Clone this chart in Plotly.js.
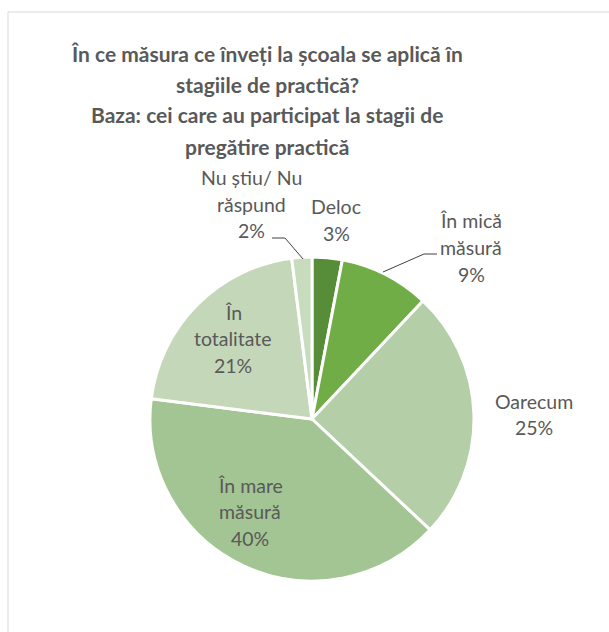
<!DOCTYPE html>
<html><head><meta charset="utf-8">
<script src="https://cdn.plot.ly/plotly-3.0.1.min.js"></script>
<style>html,body{margin:0;padding:0;background:#fff}</style>
</head><body><div id="chart" style="width:609px;height:632px"></div>
<script>
// ---- data ----
const categories = ["Deloc", "În mică măsură", "Oarecum", "În mare măsură", "În totalitate", "Nu știu/ Nu răspund"];
const values = [3, 9, 25, 40, 21, 2];
const titleLines = ["În ce măsura ce înveți la școala se aplică în", "stagiile de practică?", "Baza: cei care au participat la stagii de", "pregătire practică"];
const labelLines = [["Deloc"], ["În mică", "măsură"], ["Oarecum"], ["În mare", "măsură"], ["În", "totalitate"], ["Nu știu/ Nu", "răspund"]];

// ---- styles / positions (px) ----
const W = 609, H = 632;
const colors = ["#578d38", "#70ad47", "#b4cea7", "#a2c593", "#c4d8b9", "#c7dbbd"];
const labelPos = [[336, 207], [471, 221], [534, 401], [250, 485], [233, 312], [251, 178]];
const labelSpacing = 26.5;
const titleX = 267, titleY = [53, 84, 115, 146];
const leaders = [
  [[383, 272], [424, 254], [437, 254]],
  [[272, 238], [285, 238], [303, 259]]
];
const cx = 312, cy = 419, R = 162;

const px = x => x / W, py = y => 1 - y / H;
const FONT = "Lato, 'Open Sans', sans-serif";
const textColor = "#595959";

const annotations = [];
titleLines.forEach((t, i) => annotations.push({
  text: "<b>" + t + "</b>", x: px(titleX), y: py(titleY[i]), xref: "paper", yref: "paper",
  xanchor: "center", yanchor: "middle", showarrow: false,
  font: {family: FONT, size: 21, color: textColor}
}));
categories.forEach((c, i) => {
  const lines = labelLines[i].concat([values[i] + "%"]);
  lines.forEach((l, j) => annotations.push({
    text: l, x: px(labelPos[i][0]), y: py(labelPos[i][1] + j * labelSpacing), xref: "paper", yref: "paper",
    xanchor: "center", yanchor: "middle", showarrow: false,
    font: {family: FONT, size: 19.5, color: textColor}
  }));
});

const shapes = [
  {type: "line", xref: "paper", yref: "paper", x0: px(8), y0: py(12), x1: 1, y1: py(12), line: {color: "#d9d9d9", width: 1}},
  {type: "line", xref: "paper", yref: "paper", x0: px(8), y0: py(12), x1: px(8), y1: 0, line: {color: "#d9d9d9", width: 1}}
];
leaders.forEach(pts => {
  let d = "M" + pts.map(p => px(p[0]) + "," + py(p[1])).join(" L");
  shapes.push({type: "path", xref: "paper", yref: "paper", path: d, line: {color: "#404040", width: 1}});
});

const trace = {
  type: "pie", labels: categories, values: values, sort: false, direction: "clockwise", rotation: 0,
  marker: {colors: colors, line: {color: "#ffffff", width: 3}},
  textinfo: "none", hoverinfo: "label+percent", showlegend: false,
  domain: {x: [px(cx - R), px(cx + R)], y: [py(cy + R), py(cy - R)]}
};

Plotly.newPlot("chart", [trace], {
  width: W, height: H, margin: {l: 0, r: 0, t: 0, b: 0},
  paper_bgcolor: "#ffffff", showlegend: false,
  annotations: annotations, shapes: shapes
}, {displayModeBar: false, staticPlot: true});
</script></body></html>
